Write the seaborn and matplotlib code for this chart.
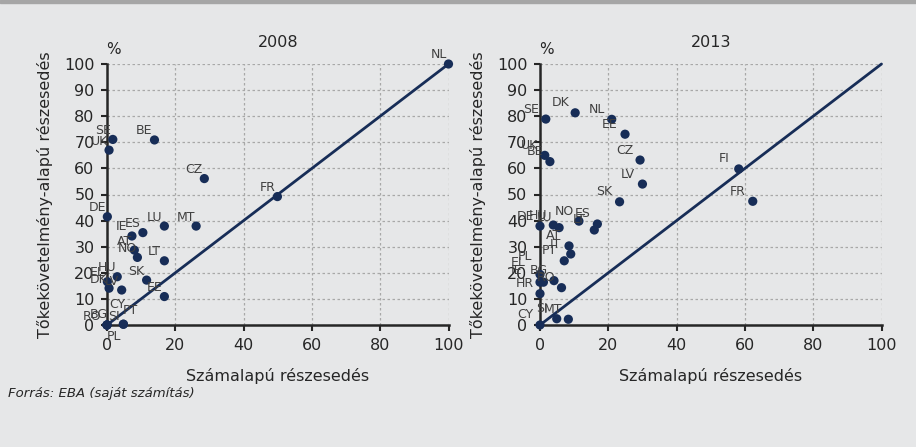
import matplotlib
matplotlib.use("Agg")
import matplotlib.pyplot as plt
from matplotlib.patches import Rectangle
from matplotlib import font_manager
import seaborn as sns
import pandas as pd

# ---------------- data ----------------
years = ["2008", "2013"]

labels_2008 = ["NL", "SE", "UK", "BE", "CZ", "FR", "DE", "LU", "MT", "ES", "IE", "AT", "NO",
               "LT", "HU", "EL", "DK", "LV", "SK", "EE", "RO", "BG", "CY", "PL", "SI", "PT"]
x_2008 = [100, 1.7, 0.6, 13.9, 28.5, 49.9, 0.1, 16.8, 26.1, 10.5, 7.3, 8.0, 8.9,
          16.8, 3.0, 0.1, 0.6, 4.3, 11.6, 16.8, 0, 0, 0, 0, 4.8, 4.8]
y_2008 = [100, 71.1, 67.0, 70.9, 56.1, 49.2, 41.5, 37.9, 37.9, 35.4, 34.1, 28.7, 25.9,
          24.6, 18.5, 16.6, 14.1, 13.4, 17.2, 10.9, 0, 0, 0, 0, 0.3, 0.3]

labels_2013 = ["SE", "DK", "NL", "EE", "UK", "BE", "CZ", "LV", "SK", "FI", "FR", "DE", "HU",
               "LU", "NO", "ES", "LT", "AT", "IT", "PT", "PL", "EL", "IE", "BG", "RO", "HR",
               "SI", "MT", "CY"]
x_2013 = [1.7, 10.3, 21.0, 24.9, 1.4, 2.9, 29.3, 30.0, 23.3, 58.2, 62.3, 0, 3.9,
          5.6, 11.4, 16.8, 15.9, 8.5, 9.0, 7.1, 0, 0, 1.0, 4.1, 6.3, 0,
          4.9, 8.3, 0]
y_2013 = [78.9, 81.3, 78.8, 73.1, 65.0, 62.6, 63.2, 54.0, 47.2, 59.8, 47.4, 37.9, 38.3,
          37.3, 39.8, 38.7, 36.4, 30.3, 27.2, 24.6, 19.4, 16.4, 16.4, 17.0, 14.3, 12.0,
          2.4, 2.2, 0]

diag_x = [0, 100]
diag_y = [0, 100]
x_ticks = [0, 20, 40, 60, 80, 100]
y_ticks = [0, 10, 20, 30, 40, 50, 60, 70, 80, 90, 100]

x_title = "Számalapú részesedés"
y_title = "Tőkekövetelmény-alapú részesedés"
source = "Forrás: EBA (saját számítás)"

# ---------------- style ----------------
sns.set_theme(style="white")
plt.rcParams["font.family"] = ["DejaVu Sans"]

installed = {f.name for f in font_manager.fontManager.ttflist}
narrow = "Liberation Sans Narrow" if "Liberation Sans Narrow" in installed else "DejaVu Sans"

BG = "#E6E7E8"
NAVY = "#172D57"
AXC = "#262626"
LBL = "#404040"

panels = {
    "2008": pd.DataFrame({"label": labels_2008, "x": x_2008, "y": y_2008}),
    "2013": pd.DataFrame({"label": labels_2013, "x": x_2013, "y": y_2013}),
}
default_off = {"2008": (-10, 9), "2013": (-15, 10)}
custom_off = {
    ("2008", "RO"): (-15, 8), ("2008", "BG"): (-8, 10), ("2008", "CY"): (10, 20),
    ("2008", "PL"): (7, -12), ("2008", "PT"): (7, 14), ("2008", "SI"): (-9, 8),
    ("2013", "PL"): (-15, 18), ("2013", "EL"): (-22, 20), ("2013", "IE"): (-27, 12),
}

fig = plt.figure(figsize=(9.16, 4.47), dpi=100, facecolor=BG)
fig.patches.append(Rectangle((0, 1 - 3 / 447), 1, 3 / 447, transform=fig.transFigure,
                             color="#A6A6A6", zorder=0))

W, H = 916, 447
ax_left_px = {"2008": 107, "2013": 540}
for yr in years:
    l = ax_left_px[yr]
    ax = fig.add_axes([l / W, 1 - 325 / H, 341.5 / W, 261 / H])
    ax.set_facecolor(BG)
    df = panels[yr]

    ax.set_xlim(0, 100)
    ax.set_ylim(0, 100)
    ax.set_xticks(x_ticks)
    ax.set_yticks(y_ticks)
    ax.grid(True, color="#A8A8A8", linestyle=(0, (2, 2)), linewidth=0.9)
    ax.set_axisbelow(True)

    sns.lineplot(x=diag_x, y=diag_y, ax=ax, color=NAVY, linewidth=2.0, clip_on=False, zorder=3)
    sns.scatterplot(data=df, x="x", y="y", ax=ax, color=NAVY, s=44, edgecolor="none",
                    clip_on=False, zorder=5)

    for lab, xv, yv in zip(df["label"], df["x"], df["y"]):
        dx, dy = custom_off.get((yr, lab), default_off[yr])
        ax.annotate(lab, (xv, yv), xytext=(dx, dy), textcoords="offset pixels",
                    ha="center", va="center", fontsize=9, color=LBL,
                    annotation_clip=False, zorder=6)

    for s in ["top", "right"]:
        ax.spines[s].set_visible(False)
    for s in ["bottom", "left"]:
        ax.spines[s].set_color(AXC)
        ax.spines[s].set_linewidth(1.8)
        ax.spines[s].set_zorder(4)
    ax.tick_params(axis="both", which="major", bottom=True, left=True, direction="out",
                   length=4, width=1.5, color=AXC, labelcolor=AXC, labelsize=11.5, pad=5)

    ax.set_xlabel(x_title, fontsize=11.5, color=AXC)
    ax.xaxis.set_label_coords(0.5, -0.165)
    ax.set_ylabel(y_title, fontsize=11.5, color=AXC)
    ax.yaxis.set_label_coords(-0.158, 0.5)
    ax.set_title(yr, fontsize=11.5, color=AXC, pad=12)
    ax.annotate("%", xy=(0, 1), xycoords="axes fraction", xytext=(6, 15),
                textcoords="offset pixels", ha="center", va="center",
                fontsize=11, color=AXC, annotation_clip=False)

fig.text(8 / W, 1 - 393 / H, source, ha="left", va="center",
         fontsize=10.5 if narrow != "DejaVu Sans" else 9.5,
         style="italic", color=AXC, family=[narrow, "DejaVu Sans"])

fig.savefig("out.png", dpi=100, facecolor=BG)
